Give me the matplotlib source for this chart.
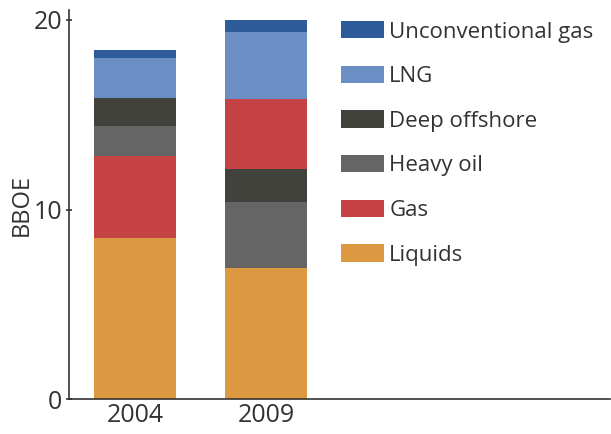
import matplotlib.pyplot as plt
from matplotlib.patches import Patch

years = ["2004", "2009"]
series = ["Liquids", "Gas", "Heavy oil", "Deep offshore", "LNG", "Unconventional gas"]
colors = ["#DC9942", "#C54245", "#646564", "#42423D", "#6B8FC4", "#2E5C9A"]
vals_2004 = [8.50, 4.34, 1.56, 1.48, 2.12, 0.39]
vals_2009 = [6.92, 3.69, 3.48, 1.74, 3.53, 0.64]
# stacking order bottom -> top differs between the two bars
order_2004 = ["Liquids", "Gas", "Heavy oil", "Deep offshore", "LNG", "Unconventional gas"]
order_2009 = ["Liquids", "Heavy oil", "Deep offshore", "Gas", "LNG", "Unconventional gas"]

plt.rcParams['font.family'] = ['Open Sans', 'DejaVu Sans']
txt = "#333333"

fig = plt.figure(figsize=(6.11, 4.34), dpi=100)
ax = fig.add_axes([0.1129, 0.08, 0.885, 0.896])

for i, (vals, order) in enumerate([(vals_2004, order_2004), (vals_2009, order_2009)]):
    bottom = 0
    for name in order:
        k = series.index(name)
        ax.bar(i, vals[k], bottom=bottom, width=0.626, color=colors[k], linewidth=0)
        bottom += vals[k]

ax.set_xlim(-0.504, 3.626)
ax.set_ylim(0, 20.5)
ax.set_yticks([0, 10, 20])
ax.set_xticks([0, 1])
ax.set_xticklabels(years)
ax.tick_params(axis='y', direction='inout', length=4, width=1.2, colors="#333333", labelsize=18, labelcolor=txt, pad=3)
ax.tick_params(axis='x', length=0, labelsize=18, labelcolor=txt, pad=3)
for s in ["top", "right"]:
    ax.spines[s].set_visible(False)
for s in ["left", "bottom"]:
    ax.spines[s].set_color("#333333")
    ax.spines[s].set_linewidth(1.2)
ax.set_ylabel("BBOE", fontsize=17, color=txt, labelpad=0)

handles = [Patch(facecolor=colors[k], linewidth=0) for k in range(len(series))][::-1]
leg = ax.legend(handles, series[::-1], loc="upper left", bbox_to_anchor=(0.486, 0.995),
                frameon=False, fontsize=16, handlelength=1.94, handleheight=0.81,
                handletextpad=0.25, labelspacing=1.05, borderaxespad=0)
for t in leg.get_texts():
    t.set_color(txt)

fig.savefig("out.png", dpi=100)
